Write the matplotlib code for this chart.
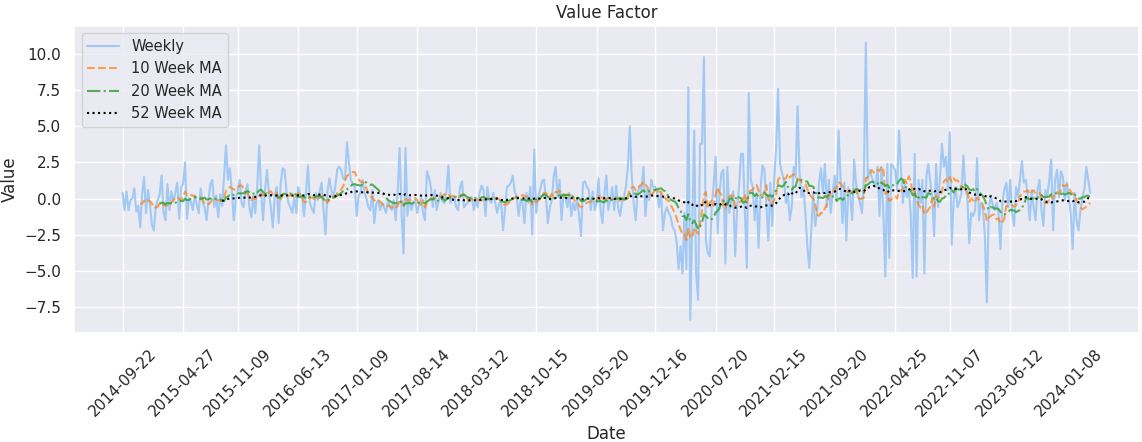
import pandas as pd
import matplotlib
matplotlib.use("Agg")
import matplotlib.pyplot as plt
import seaborn as sns

sns.set_theme(style="darkgrid")

# weekly factor values, one per week from start_date
start_date = "2014-09-22"
weekly_values = [
    0.4, -0.8, 0.5, -0.8, -0.1, 0.0, 0.7, -0.9, -0.5, -2.0,
    0.3, 1.5, -1.0, 0.6, -0.4, -1.8, -2.2, -0.6, -0.1, 0.3,
    1.6, -1.0, -1.5, 1.0, -0.8, 0.5, -0.2, 0.4, 1.1, -1.4,
    0.8, 1.0, 2.5, -1.4, 0.0, -0.2, -0.8, 0.2, -0.4, -1.0,
    0.7, -0.2, -0.6,
    -1.5, -0.2, 1.0, 1.3, -0.6, 0.2, -1.3, 0.3, -0.5, 1.5,
    3.7, 1.3, 2.1, 0.5, -1.5, 0.0, 0.5, 1.3, -0.3, -0.6,
    0.5, 1.0, -0.6, -1.3, 0.2, -1.0, 0.8, 3.7, 0.5, -1.5,
    0.6, 2.0, 0.4, -0.6, -2.0, 0.2, 0.8, -1.7, 1.0, 2.1,
    2.0, 0.5, -0.3, -0.6, -1.0, 0.1,
    -1.0, 0.8, 0.3, 0.1, -1.2, 0.4, 2.3, -0.3, -0.7, -1.0,
    0.4, -0.1, 0.5, 1.1, -0.8, -2.5, 0.5, 1.4, 0.6, 0.1,
    0.8, 2.0, 2.2, 2.0, 1.4, 1.3, 3.9, 2.5, 1.3, 1.0,
    0.8, -1.2, 0.2, 0.4, 1.3, 0.4, 0.0, -0.6, -0.8, 0.6,
    -1.7, -0.4, -0.1, -0.8, -0.3, -0.6,
    -1.0, -0.1, -0.6, -0.8, -0.1, -1.5, 0.5, 3.5, -1.0, -3.8,
    3.5, -1.2, 0.1, -0.8, -0.3, -0.1, -1.0, -0.4, 0.1, -1.0,
    -1.5, 1.9, 1.5, 0.8, -0.6, 0.6, -0.8, -0.2, 0.4, -0.2,
    -0.3, 0.5, 2.3, -0.3, 0.0, 0.1, -0.6, -0.8, 0.8, 1.2,
    -0.6, -0.4, -0.3, 0.0, 0.1, -0.8,
    -0.1, -0.6, 0.4, 0.9, 0.6, -1.2, 0.8, -0.1, -0.3, 0.4,
    -0.3, -1.0, -0.4, -0.1, -2.2, -0.8, 0.8, 0.9, 1.1, 1.6,
    0.5, 0.1, -1.2, -0.1, -0.3, -1.7, 0.4, -0.3, 0.8, -2.5,
    3.4, -1.0, 0.1, 0.6, 1.2, 1.3, 0.1, -1.7, -0.6, -0.1,
    1.5, 2.2, 0.1, 1.3, -1.5, 0.3,
    0.1, -0.6, 0.4, -1.2, -0.3, -0.8, -0.1, -1.2, -2.6, 1.1,
    1.2, 0.8, 0.6, -0.8, 0.5, -0.8, -0.3, 1.4, -0.8, -1.7,
    0.4, 1.6, -0.8, -0.1, 0.8, -0.8, 0.9, -0.6, -1.2, -0.3,
    0.1, 0.8, 2.2, 5.0, 1.5, -0.3, -1.5, 0.4, 0.8, 0.6,
    2.2, -1.2, 0.6, -0.1, 1.3, 0.8,
    0.8, 0.4, -0.6, 0.4, -2.2, -1.0, -0.6, -1.0, -1.3, -2.0,
    -2.2, -3.0, -4.9, -3.3, -5.2, -1.0, -4.9, 7.7, -8.4, -1.9,
    4.7, -5.2, -7.0, 3.8, 3.8, 9.8, -2.9, -3.8, -4.0, -0.6,
    1.0, 2.9, -2.4, 0.4, 1.8, 2.0, -4.5, 2.2, -1.0, -0.1,
    0.5, -4.0, -0.6, 0.8, 3.1,
    3.1, -1.0, -4.8, 7.3, 1.3, 0.8, -1.5, 0.4, -3.4, 0.6,
    2.3, 2.0, -0.5, -2.9, 1.1, -1.9, 1.3, 3.5, 7.6, 2.4,
    1.8, 1.3, -0.3, 0.4, -1.5, -0.6, 2.2, 1.5, 6.4, 1.8,
    0.1, 0.8, -1.0, -3.3, -4.8, -2.2, 0.4, -1.9, -1.0, 1.1,
    2.1, 0.4, 2.4, -0.6, 1.3, -1.0,
    0.4, 1.6, -0.1, 4.7, 1.5, -1.7, 1.1, -2.9, 0.8, 0.1,
    -1.5, 2.7, 1.0, 0.2, -0.3, -1.0, 1.5, 10.8, 1.3, 2.0,
    1.5, 1.1, 0.8, 2.2, -1.2, 2.2, -1.2, -5.4, 2.4, -4.1,
    2.4, 2.2, 2.0, 0.6, 4.7, 2.0, -0.3, 1.1, 0.1, 0.6,
    -1.0, -5.5, 3.1, -5.4, 1.3, -0.3,
    1.3, -5.2, 1.5, 2.4, 1.2, 0.1, -2.6, 2.4, -0.6, 1.5,
    3.8, 2.2, 2.9, 0.6, 4.6, -3.2, -0.1, 0.8, -0.6, -0.2,
    0.4, 3.0, 0.6, 0.2, -3.1, -1.0, -1.2, -0.8, 2.8, -1.5,
    -0.3, -0.6, -2.6, -7.2, -0.8, 0.2, -0.4, -0.8, -0.3, -1.0,
    -3.5, -0.3, 0.6, 1.1, -0.6, 1.3,
    -1.0, -1.9, 0.8, 0.1, 1.3, 2.6, 1.1, 1.3, 0.1, -1.5,
    0.6, -0.6, -1.5, 0.6, 1.3, -0.8, -1.9, 0.6, 0.1, 1.3,
    2.7, -2.2, 1.3, 2.0, 0.1, 1.9, 1.5, -0.1, 1.1, 0.1,
    -1.0, -3.5, 0.4, -1.5, -2.2, -0.8, 0.1, 0.6, 2.2, 1.3,
    0.4,
]

tick_labels = ["2014-09-22", "2015-04-27", "2015-11-09", "2016-06-13",
               "2017-01-09", "2017-08-14", "2018-03-12", "2018-10-15",
               "2019-05-20", "2019-12-16", "2020-07-20", "2021-02-15",
               "2021-09-20", "2022-04-25", "2022-11-07", "2023-06-12",
               "2024-01-08"]

ma_windows = [10, 20, 52]

dates = pd.date_range(start_date, periods=len(weekly_values), freq="W-MON")
weekly = pd.Series(weekly_values, index=dates)

fig, ax = plt.subplots(figsize=(11.42, 4.42), dpi=100)

ax.plot(weekly.index, weekly, color="#a1c9f4", label="Weekly")
ax.plot(weekly.index, weekly.rolling(ma_windows[0]).mean(), "--",
        color="tab:orange", alpha=0.7, label="10 Week MA")
ax.plot(weekly.index, weekly.rolling(ma_windows[1]).mean(), "-.",
        color="tab:green", alpha=0.8, label="20 Week MA")
ax.plot(weekly.index, weekly.rolling(ma_windows[2]).mean(), ":",
        color="black", label="52 Week MA")

ax.set_xticks(pd.to_datetime(tick_labels))
ax.set_xticklabels(tick_labels, rotation=45)
ax.set_ylim(-9.3, 11.95)

ax.set_title("Value Factor")
ax.set_xlabel("Date")
ax.set_ylabel("Value")
ax.legend(loc="upper left", fontsize=10.5, handlelength=2.2)

fig.subplots_adjust(left=0.065, right=0.997, top=0.941, bottom=0.247)
fig.savefig("out.png")
